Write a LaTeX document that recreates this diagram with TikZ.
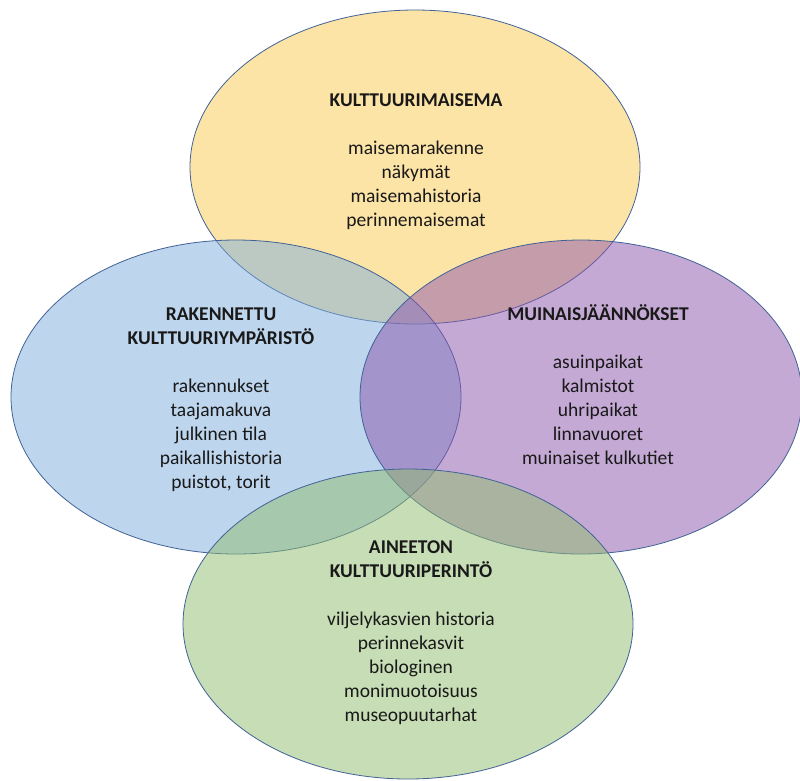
\documentclass[tikz,border=0pt]{standalone}
\usepackage{fontspec}
\setmainfont{Carlito}
\usetikzlibrary{shapes.geometric}
\definecolor{cyellow}{RGB}{251,203,81}
\definecolor{cblue}{RGB}{125,173,221}
\definecolor{cpurple}{RGB}{141,85,173}
\definecolor{cgreen}{RGB}{145,189,109}
\definecolor{cline}{RGB}{65,98,150}
\begin{document}
\begin{tikzpicture}[x=1pt,y=-1pt,
  venn/.style={ellipse, draw=cline, line width=0.8pt, fill opacity=0.5,
    minimum width=450pt, minimum height=314pt, inner sep=0pt},
  txt/.style={align=center, anchor=base, inner sep=0pt,
    font=\fontsize{19.5}{24}\selectfont, text=black!90}]
\fill[white] (0,0) rectangle (800,780);
\useasboundingbox (0,0) rectangle (800,780);
\node[venn, fill=cyellow] (etop) at (415,167) {};
\node[venn, fill=cblue] (eleft) at (236,397) {};
\node[venn, fill=cpurple, minimum width=442pt] (eright) at (581,397) {};
\node[venn, fill=cgreen, minimum height=310pt] (ebottom) at (408,624) {};
\node[txt] (ttop) at (416,226) {\textbf{KULTTUURIMAISEMA}\\[24pt]
  maisemarakenne\\ näkymät\\ maisemahistoria\\ perinnemaisemat};
\node[txt] (tleft) at (221,488) {\textbf{RAKENNETTU}\\ \textbf{KULTTUURIYMPÄRISTÖ}\\[24pt]
  rakennukset\\ taajamakuva\\ julkinen tila\\ paikallishistoria\\ puistot, torit};
\node[txt] (tright) at (598,464) {\textbf{MUINAISJÄÄNNÖKSET}\\[24pt]
  asuinpaikat\\ kalmistot\\ uhripaikat\\ linnavuoret\\ muinaiset kulkutiet};
\node[txt] (tbottom) at (411,721) {\textbf{AINEETON}\\ \textbf{KULTTUURIPERINTÖ}\\[24pt]
  viljelykasvien historia\\ perinnekasvit\\ biologinen\\ monimuotoisuus\\ museopuutarhat};
\end{tikzpicture}
\end{document}
